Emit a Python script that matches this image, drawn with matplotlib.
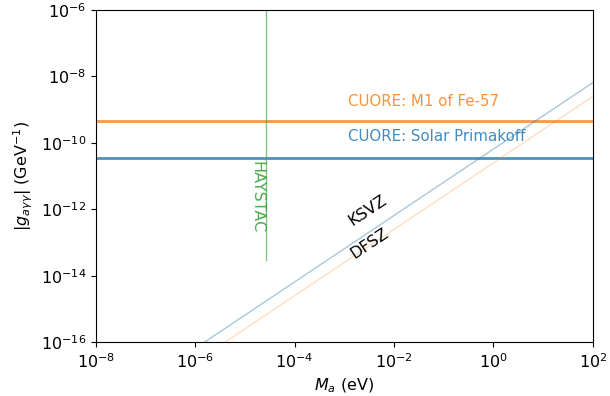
import numpy as np
import matplotlib
matplotlib.use("Agg")
import matplotlib.pyplot as plt

plt.rcParams['font.size'] = 11.5

# limits
mass_range = [1e-8, 1e2]

# CUORE horizontal limits
cuore_fe57_g = 4.4e-10
cuore_primakoff_g = 3.5e-11

# HAYSTAC vertical line
haystac_m = 2.6e-5
haystac_g = [3e-14, 1e-6]

# QCD axion bands (endpoints)
ksvz_m = [1e-8, 1e2]
ksvz_g = [6.5e-19, 6.5e-9]
dfsz_m = [1e-8, 1e2]
dfsz_g = [2.5e-19, 2.5e-9]

fig, ax = plt.subplots(figsize=(6.1, 3.96), dpi=100)
fig.subplots_adjust(left=0.157, right=0.972, top=0.975, bottom=0.136)

ax.plot(mass_range, [cuore_fe57_g] * 2, color='C1', lw=2, alpha=0.8)
ax.plot(mass_range, [cuore_primakoff_g] * 2, color='C0', lw=2, alpha=0.8)
ax.plot([haystac_m] * 2, haystac_g, color='C2', lw=1, alpha=0.6)
ax.plot(ksvz_m, ksvz_g, color='C0', lw=1, alpha=0.4)
ax.plot(dfsz_m, dfsz_g, color='C1', lw=1, alpha=0.25)

ax.text(1.2e-3, 1.7e-9, 'CUORE: M1 of Fe-57', color='C1', alpha=0.85,
        fontsize=10.8, va='center')
ax.text(1.2e-3, 1.6e-10, 'CUORE: Solar Primakoff', color='C0', alpha=0.85,
        fontsize=10.8, va='center')
ax.text(1.75e-5, 2.3e-12, 'HAYSTAC', color='C2', alpha=0.85, rotation=270,
        ha='center', va='center')
ax.text(3.0e-3, 9e-13, 'KSVZ', rotation=33.7, ha='center', va='center')
ax.text(3.2e-3, 9.5e-14, 'DFSZ', rotation=33.7, ha='center', va='center')

ax.set_xscale('log')
ax.set_yscale('log')
ax.set_xlim(1e-8, 1e2)
ax.set_ylim(1e-16, 1e-6)
ax.set_xticks([1e-8, 1e-6, 1e-4, 1e-2, 1e0, 1e2])
ax.set_yticks([1e-16, 1e-14, 1e-12, 1e-10, 1e-8, 1e-6])
ax.minorticks_off()
ax.set_xlabel(r'$M_a$ (eV)')
ax.set_ylabel(r'$|g_{a\gamma\gamma}|$ (GeV$^{-1}$)')

fig.savefig('out.png', dpi=100)
